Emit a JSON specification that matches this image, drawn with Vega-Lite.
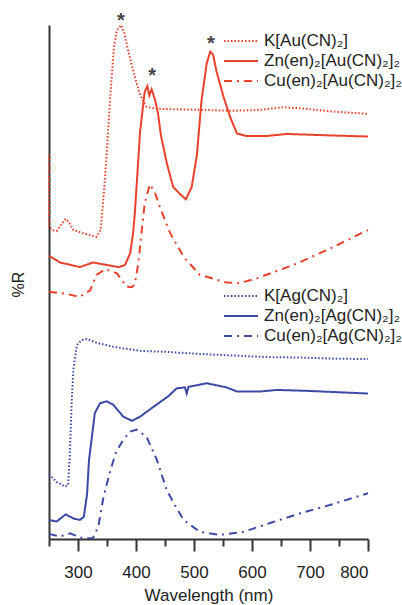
{
  "$schema": "https://vega.github.io/schema/vega-lite/v6.json",
  "width": 319,
  "height": 514,
  "autosize": {"type": "none"},
  "padding": {"left": 49, "top": 25, "right": 34, "bottom": 66},
  "background": "white",
  "config": {"view": {"stroke": null}, "font": "Liberation Sans", "axis": {"grid": false}},
  "datasets": {
    "au": [
      {"s": "K[Au(CN)₂]", "x": 250, "y": 74.7, "i": 0},
      {"s": "K[Au(CN)₂]", "x": 250, "y": 60.7, "i": 1},
      {"s": "K[Au(CN)₂]", "x": 257, "y": 60.1, "i": 2},
      {"s": "K[Au(CN)₂]", "x": 263, "y": 59.9, "i": 3},
      {"s": "K[Au(CN)₂]", "x": 270, "y": 61.0, "i": 4},
      {"s": "K[Au(CN)₂]", "x": 279, "y": 62.3, "i": 5},
      {"s": "K[Au(CN)₂]", "x": 285, "y": 61.5, "i": 6},
      {"s": "K[Au(CN)₂]", "x": 292, "y": 60.1, "i": 7},
      {"s": "K[Au(CN)₂]", "x": 309, "y": 59.5, "i": 8},
      {"s": "K[Au(CN)₂]", "x": 332, "y": 58.8, "i": 9},
      {"s": "K[Au(CN)₂]", "x": 339, "y": 60.1, "i": 10},
      {"s": "K[Au(CN)₂]", "x": 344, "y": 66.5, "i": 11},
      {"s": "K[Au(CN)₂]", "x": 350, "y": 75.7, "i": 12},
      {"s": "K[Au(CN)₂]", "x": 352, "y": 79.6, "i": 13},
      {"s": "K[Au(CN)₂]", "x": 356, "y": 86.8, "i": 14},
      {"s": "K[Au(CN)₂]", "x": 362, "y": 95.7, "i": 15},
      {"s": "K[Au(CN)₂]", "x": 367, "y": 99.0, "i": 16},
      {"s": "K[Au(CN)₂]", "x": 374, "y": 100.0, "i": 17},
      {"s": "K[Au(CN)₂]", "x": 380, "y": 98.4, "i": 18},
      {"s": "K[Au(CN)₂]", "x": 385, "y": 95.7, "i": 19},
      {"s": "K[Au(CN)₂]", "x": 395, "y": 91.2, "i": 20},
      {"s": "K[Au(CN)₂]", "x": 407, "y": 86.4, "i": 21},
      {"s": "K[Au(CN)₂]", "x": 418, "y": 84.1, "i": 22},
      {"s": "K[Au(CN)₂]", "x": 436, "y": 83.7, "i": 23},
      {"s": "K[Au(CN)₂]", "x": 510, "y": 83.5, "i": 24},
      {"s": "K[Au(CN)₂]", "x": 567, "y": 83.3, "i": 25},
      {"s": "K[Au(CN)₂]", "x": 614, "y": 83.5, "i": 26},
      {"s": "K[Au(CN)₂]", "x": 653, "y": 84.0, "i": 27},
      {"s": "K[Au(CN)₂]", "x": 683, "y": 83.8, "i": 28},
      {"s": "K[Au(CN)₂]", "x": 735, "y": 83.2, "i": 29},
      {"s": "K[Au(CN)₂]", "x": 800, "y": 82.7, "i": 30},
      {"s": "Zn(en)₂[Au(CN)₂]₂", "x": 250, "y": 55.1, "i": 0},
      {"s": "Zn(en)₂[Au(CN)₂]₂", "x": 269, "y": 53.8, "i": 1},
      {"s": "Zn(en)₂[Au(CN)₂]₂", "x": 303, "y": 52.9, "i": 2},
      {"s": "Zn(en)₂[Au(CN)₂]₂", "x": 326, "y": 53.8, "i": 3},
      {"s": "Zn(en)₂[Au(CN)₂]₂", "x": 350, "y": 53.3, "i": 4},
      {"s": "Zn(en)₂[Au(CN)₂]₂", "x": 370, "y": 52.9, "i": 5},
      {"s": "Zn(en)₂[Au(CN)₂]₂", "x": 381, "y": 53.3, "i": 6},
      {"s": "Zn(en)₂[Au(CN)₂]₂", "x": 390, "y": 55.6, "i": 7},
      {"s": "Zn(en)₂[Au(CN)₂]₂", "x": 395, "y": 59.5, "i": 8},
      {"s": "Zn(en)₂[Au(CN)₂]₂", "x": 398, "y": 63.4, "i": 9},
      {"s": "Zn(en)₂[Au(CN)₂]₂", "x": 407, "y": 79.2, "i": 10},
      {"s": "Zn(en)₂[Au(CN)₂]₂", "x": 415, "y": 87.0, "i": 11},
      {"s": "Zn(en)₂[Au(CN)₂]₂", "x": 419.5, "y": 88.1, "i": 12},
      {"s": "Zn(en)₂[Au(CN)₂]₂", "x": 423, "y": 86.3, "i": 13},
      {"s": "Zn(en)₂[Au(CN)₂]₂", "x": 427, "y": 87.5, "i": 14},
      {"s": "Zn(en)₂[Au(CN)₂]₂", "x": 433, "y": 85.4, "i": 15},
      {"s": "Zn(en)₂[Au(CN)₂]₂", "x": 438, "y": 82.8, "i": 16},
      {"s": "Zn(en)₂[Au(CN)₂]₂", "x": 443, "y": 78.5, "i": 17},
      {"s": "Zn(en)₂[Au(CN)₂]₂", "x": 453, "y": 73.2, "i": 18},
      {"s": "Zn(en)₂[Au(CN)₂]₂", "x": 464, "y": 68.5, "i": 19},
      {"s": "Zn(en)₂[Au(CN)₂]₂", "x": 476, "y": 67.1, "i": 20},
      {"s": "Zn(en)₂[Au(CN)₂]₂", "x": 486, "y": 66.1, "i": 21},
      {"s": "Zn(en)₂[Au(CN)₂]₂", "x": 496, "y": 68.5, "i": 22},
      {"s": "Zn(en)₂[Au(CN)₂]₂", "x": 505, "y": 74.7, "i": 23},
      {"s": "Zn(en)₂[Au(CN)₂]₂", "x": 513, "y": 85.4, "i": 24},
      {"s": "Zn(en)₂[Au(CN)₂]₂", "x": 522, "y": 92.6, "i": 25},
      {"s": "Zn(en)₂[Au(CN)₂]₂", "x": 528, "y": 94.8, "i": 26},
      {"s": "Zn(en)₂[Au(CN)₂]₂", "x": 533, "y": 94.2, "i": 27},
      {"s": "Zn(en)₂[Au(CN)₂]₂", "x": 539, "y": 90.9, "i": 28},
      {"s": "Zn(en)₂[Au(CN)₂]₂", "x": 551, "y": 86.0, "i": 29},
      {"s": "Zn(en)₂[Au(CN)₂]₂", "x": 562, "y": 82.2, "i": 30},
      {"s": "Zn(en)₂[Au(CN)₂]₂", "x": 574, "y": 78.9, "i": 31},
      {"s": "Zn(en)₂[Au(CN)₂]₂", "x": 591, "y": 78.4, "i": 32},
      {"s": "Zn(en)₂[Au(CN)₂]₂", "x": 625, "y": 78.4, "i": 33},
      {"s": "Zn(en)₂[Au(CN)₂]₂", "x": 660, "y": 78.8, "i": 34},
      {"s": "Zn(en)₂[Au(CN)₂]₂", "x": 740, "y": 78.5, "i": 35},
      {"s": "Zn(en)₂[Au(CN)₂]₂", "x": 800, "y": 78.3, "i": 36},
      {"s": "Cu(en)₂[Au(CN)₂]₂", "x": 250, "y": 48.1, "i": 0},
      {"s": "Cu(en)₂[Au(CN)₂]₂", "x": 280, "y": 47.7, "i": 1},
      {"s": "Cu(en)₂[Au(CN)₂]₂", "x": 303, "y": 47.1, "i": 2},
      {"s": "Cu(en)₂[Au(CN)₂]₂", "x": 321, "y": 48.4, "i": 3},
      {"s": "Cu(en)₂[Au(CN)₂]₂", "x": 332, "y": 51.4, "i": 4},
      {"s": "Cu(en)₂[Au(CN)₂]₂", "x": 347, "y": 52.5, "i": 5},
      {"s": "Cu(en)₂[Au(CN)₂]₂", "x": 367, "y": 51.7, "i": 6},
      {"s": "Cu(en)₂[Au(CN)₂]₂", "x": 384, "y": 49.1, "i": 7},
      {"s": "Cu(en)₂[Au(CN)₂]₂", "x": 393, "y": 49.0, "i": 8},
      {"s": "Cu(en)₂[Au(CN)₂]₂", "x": 398, "y": 49.6, "i": 9},
      {"s": "Cu(en)₂[Au(CN)₂]₂", "x": 404, "y": 53.6, "i": 10},
      {"s": "Cu(en)₂[Au(CN)₂]₂", "x": 410, "y": 60.1, "i": 11},
      {"s": "Cu(en)₂[Au(CN)₂]₂", "x": 415, "y": 65.3, "i": 12},
      {"s": "Cu(en)₂[Au(CN)₂]₂", "x": 424, "y": 69.0, "i": 13},
      {"s": "Cu(en)₂[Au(CN)₂]₂", "x": 433, "y": 67.3, "i": 14},
      {"s": "Cu(en)₂[Au(CN)₂]₂", "x": 441, "y": 64.6, "i": 15},
      {"s": "Cu(en)₂[Au(CN)₂]₂", "x": 459, "y": 59.5, "i": 16},
      {"s": "Cu(en)₂[Au(CN)₂]₂", "x": 482, "y": 54.9, "i": 17},
      {"s": "Cu(en)₂[Au(CN)₂]₂", "x": 510, "y": 51.4, "i": 18},
      {"s": "Cu(en)₂[Au(CN)₂]₂", "x": 556, "y": 49.9, "i": 19},
      {"s": "Cu(en)₂[Au(CN)₂]₂", "x": 579, "y": 49.8, "i": 20},
      {"s": "Cu(en)₂[Au(CN)₂]₂", "x": 608, "y": 50.7, "i": 21},
      {"s": "Cu(en)₂[Au(CN)₂]₂", "x": 671, "y": 53.3, "i": 22},
      {"s": "Cu(en)₂[Au(CN)₂]₂", "x": 729, "y": 56.2, "i": 23},
      {"s": "Cu(en)₂[Au(CN)₂]₂", "x": 800, "y": 60.1, "i": 24}
    ],
    "ag": [
      {"s": "K[Ag(CN)₂]", "x": 250, "y": 12.6, "i": 0},
      {"s": "K[Ag(CN)₂]", "x": 263, "y": 11.1, "i": 1},
      {"s": "K[Ag(CN)₂]", "x": 278, "y": 10.2, "i": 2},
      {"s": "K[Ag(CN)₂]", "x": 283, "y": 10.5, "i": 3},
      {"s": "K[Ag(CN)₂]", "x": 286, "y": 16.7, "i": 4},
      {"s": "K[Ag(CN)₂]", "x": 289, "y": 26.4, "i": 5},
      {"s": "K[Ag(CN)₂]", "x": 292, "y": 32.9, "i": 6},
      {"s": "K[Ag(CN)₂]", "x": 298, "y": 37.7, "i": 7},
      {"s": "K[Ag(CN)₂]", "x": 306, "y": 38.7, "i": 8},
      {"s": "K[Ag(CN)₂]", "x": 315, "y": 38.9, "i": 9},
      {"s": "K[Ag(CN)₂]", "x": 332, "y": 38.2, "i": 10},
      {"s": "K[Ag(CN)₂]", "x": 361, "y": 37.4, "i": 11},
      {"s": "K[Ag(CN)₂]", "x": 407, "y": 36.6, "i": 12},
      {"s": "K[Ag(CN)₂]", "x": 453, "y": 36.4, "i": 13},
      {"s": "K[Ag(CN)₂]", "x": 510, "y": 36.0, "i": 14},
      {"s": "K[Ag(CN)₂]", "x": 568, "y": 35.7, "i": 15},
      {"s": "K[Ag(CN)₂]", "x": 625, "y": 35.4, "i": 16},
      {"s": "K[Ag(CN)₂]", "x": 683, "y": 35.3, "i": 17},
      {"s": "K[Ag(CN)₂]", "x": 740, "y": 35.1, "i": 18},
      {"s": "K[Ag(CN)₂]", "x": 800, "y": 35.0, "i": 19},
      {"s": "Zn(en)₂[Ag(CN)₂]₂", "x": 250, "y": 3.7, "i": 0},
      {"s": "Zn(en)₂[Ag(CN)₂]₂", "x": 263, "y": 3.4, "i": 1},
      {"s": "Zn(en)₂[Ag(CN)₂]₂", "x": 279, "y": 4.8, "i": 2},
      {"s": "Zn(en)₂[Ag(CN)₂]₂", "x": 292, "y": 4.0, "i": 3},
      {"s": "Zn(en)₂[Ag(CN)₂]₂", "x": 303, "y": 3.7, "i": 4},
      {"s": "Zn(en)₂[Ag(CN)₂]₂", "x": 310, "y": 4.3, "i": 5},
      {"s": "Zn(en)₂[Ag(CN)₂]₂", "x": 315.5, "y": 8.6, "i": 6},
      {"s": "Zn(en)₂[Ag(CN)₂]₂", "x": 319, "y": 15.4, "i": 7},
      {"s": "Zn(en)₂[Ag(CN)₂]₂", "x": 324, "y": 19.9, "i": 8},
      {"s": "Zn(en)₂[Ag(CN)₂]₂", "x": 329, "y": 24.5, "i": 9},
      {"s": "Zn(en)₂[Ag(CN)₂]₂", "x": 338, "y": 26.4, "i": 10},
      {"s": "Zn(en)₂[Ag(CN)₂]₂", "x": 349.5, "y": 26.8, "i": 11},
      {"s": "Zn(en)₂[Ag(CN)₂]₂", "x": 361, "y": 26.1, "i": 12},
      {"s": "Zn(en)₂[Ag(CN)₂]₂", "x": 378, "y": 23.8, "i": 13},
      {"s": "Zn(en)₂[Ag(CN)₂]₂", "x": 393, "y": 23.0, "i": 14},
      {"s": "Zn(en)₂[Ag(CN)₂]₂", "x": 407, "y": 23.8, "i": 15},
      {"s": "Zn(en)₂[Ag(CN)₂]₂", "x": 430, "y": 25.7, "i": 16},
      {"s": "Zn(en)₂[Ag(CN)₂]₂", "x": 456, "y": 27.8, "i": 17},
      {"s": "Zn(en)₂[Ag(CN)₂]₂", "x": 470, "y": 29.3, "i": 18},
      {"s": "Zn(en)₂[Ag(CN)₂]₂", "x": 484.5, "y": 29.5, "i": 19},
      {"s": "Zn(en)₂[Ag(CN)₂]₂", "x": 487.4, "y": 28.3, "i": 20},
      {"s": "Zn(en)₂[Ag(CN)₂]₂", "x": 490.5, "y": 29.6, "i": 21},
      {"s": "Zn(en)₂[Ag(CN)₂]₂", "x": 522, "y": 30.3, "i": 22},
      {"s": "Zn(en)₂[Ag(CN)₂]₂", "x": 556, "y": 29.5, "i": 23},
      {"s": "Zn(en)₂[Ag(CN)₂]₂", "x": 574, "y": 28.7, "i": 24},
      {"s": "Zn(en)₂[Ag(CN)₂]₂", "x": 614, "y": 28.7, "i": 25},
      {"s": "Zn(en)₂[Ag(CN)₂]₂", "x": 643, "y": 29.0, "i": 26},
      {"s": "Zn(en)₂[Ag(CN)₂]₂", "x": 700, "y": 28.8, "i": 27},
      {"s": "Zn(en)₂[Ag(CN)₂]₂", "x": 800, "y": 28.3, "i": 28},
      {"s": "Cu(en)₂[Ag(CN)₂]₂", "x": 250, "y": 1.0, "i": 0},
      {"s": "Cu(en)₂[Ag(CN)₂]₂", "x": 269, "y": 0.5, "i": 1},
      {"s": "Cu(en)₂[Ag(CN)₂]₂", "x": 286, "y": 1.1, "i": 2},
      {"s": "Cu(en)₂[Ag(CN)₂]₂", "x": 309, "y": 0.1, "i": 3},
      {"s": "Cu(en)₂[Ag(CN)₂]₂", "x": 326, "y": 0.2, "i": 4},
      {"s": "Cu(en)₂[Ag(CN)₂]₂", "x": 335, "y": 2.4, "i": 5},
      {"s": "Cu(en)₂[Ag(CN)₂]₂", "x": 344, "y": 8.2, "i": 6},
      {"s": "Cu(en)₂[Ag(CN)₂]₂", "x": 355, "y": 13.0, "i": 7},
      {"s": "Cu(en)₂[Ag(CN)₂]₂", "x": 365.5, "y": 16.9, "i": 8},
      {"s": "Cu(en)₂[Ag(CN)₂]₂", "x": 378, "y": 19.3, "i": 9},
      {"s": "Cu(en)₂[Ag(CN)₂]₂", "x": 390, "y": 20.9, "i": 10},
      {"s": "Cu(en)₂[Ag(CN)₂]₂", "x": 401, "y": 21.3, "i": 11},
      {"s": "Cu(en)₂[Ag(CN)₂]₂", "x": 418, "y": 19.9, "i": 12},
      {"s": "Cu(en)₂[Ag(CN)₂]₂", "x": 436, "y": 15.4, "i": 13},
      {"s": "Cu(en)₂[Ag(CN)₂]₂", "x": 453, "y": 9.5, "i": 14},
      {"s": "Cu(en)₂[Ag(CN)₂]₂", "x": 467, "y": 6.6, "i": 15},
      {"s": "Cu(en)₂[Ag(CN)₂]₂", "x": 482, "y": 3.7, "i": 16},
      {"s": "Cu(en)₂[Ag(CN)₂]₂", "x": 510, "y": 1.4, "i": 17},
      {"s": "Cu(en)₂[Ag(CN)₂]₂", "x": 545, "y": 0.8, "i": 18},
      {"s": "Cu(en)₂[Ag(CN)₂]₂", "x": 585, "y": 1.4, "i": 19},
      {"s": "Cu(en)₂[Ag(CN)₂]₂", "x": 631, "y": 3.1, "i": 20},
      {"s": "Cu(en)₂[Ag(CN)₂]₂", "x": 683, "y": 5.0, "i": 21},
      {"s": "Cu(en)₂[Ag(CN)₂]₂", "x": 734, "y": 6.6, "i": 22},
      {"s": "Cu(en)₂[Ag(CN)₂]₂", "x": 800, "y": 8.9, "i": 23}
    ],
    "stars": [
      {"x": 374, "y": 101.6, "t": "*"},
      {"x": 428, "y": 90.8, "t": "*"},
      {"x": 529, "y": 97.1, "t": "*"}
    ]
  },
  "encoding": {
    "y": {
      "field": "y", "type": "quantitative",
      "scale": {"domain": [0, 100], "nice": false},
      "axis": {
        "ticks": false, "labels": false, "domainColor": "#333", "domainWidth": 2,
        "title": "%R", "titleFontSize": 16, "titleFontWeight": "normal",
        "titleColor": "#222", "titlePadding": 23, "titleY": 259
      }
    }
  },
  "layer": [
    {
      "data": {"name": "au"},
      "mark": {"type": "line", "strokeWidth": 2},
      "encoding": {
        "x": {
          "field": "x", "type": "quantitative",
          "scale": {"domain": [250, 800], "nice": false, "zero": false},
          "axis": {
            "orient": "bottom", "values": [300, 400, 500, 600, 700, 800],
            "tickSize": 12, "tickWidth": 2, "tickColor": "#333",
            "domainColor": "#333", "domainWidth": 2,
            "labelFontSize": 17, "labelColor": "#222", "labelPadding": 13,
            "title": "Wavelength (nm)", "titleFontSize": 17, "titleFontWeight": "normal",
            "titleColor": "#222", "titlePadding": 7
          }
        },
        "order": {"field": "i", "type": "quantitative"},
        "color": {
          "field": "s", "type": "nominal",
          "scale": {"domain": ["K[Au(CN)₂]", "Zn(en)₂[Au(CN)₂]₂", "Cu(en)₂[Au(CN)₂]₂"], "range": ["#e8412c", "#e8412c", "#e8412c"]},
          "legend": {"orient": "none", "legendX": 174, "legendY": 6, "title": null, "symbolType": "stroke", "symbolSize": 1156, "symbolStrokeWidth": 2, "labelFontSize": 17, "labelColor": "#222", "labelLimit": 400, "rowPadding": 0, "clipHeight": 20, "labelOffset": 5, "padding": 0}
        },
        "strokeDash": {
          "field": "s", "type": "nominal",
          "scale": {"domain": ["K[Au(CN)₂]", "Zn(en)₂[Au(CN)₂]₂", "Cu(en)₂[Au(CN)₂]₂"], "range": [[1.5, 2], [1, 0], [8, 5, 2, 5]]},
          "legend": {"orient": "none", "legendX": 174, "legendY": 6, "title": null, "symbolType": "stroke", "symbolSize": 1156, "symbolStrokeWidth": 2, "labelFontSize": 17, "labelColor": "#222", "labelLimit": 400, "rowPadding": 0, "clipHeight": 20, "labelOffset": 5, "padding": 0}
        }
      }
    },
    {
      "data": {"name": "ag"},
      "mark": {"type": "line", "strokeWidth": 2},
      "encoding": {
        "x": {"field": "x", "type": "quantitative", "axis": null},
        "order": {"field": "i", "type": "quantitative"},
        "color": {
          "field": "s", "type": "nominal",
          "scale": {"domain": ["K[Ag(CN)₂]", "Zn(en)₂[Ag(CN)₂]₂", "Cu(en)₂[Ag(CN)₂]₂"], "range": ["#3c4aa5", "#3c4aa5", "#3c4aa5"]},
          "legend": {"orient": "none", "legendX": 174, "legendY": 261, "title": null, "symbolType": "stroke", "symbolSize": 1156, "symbolStrokeWidth": 2, "labelFontSize": 17, "labelColor": "#222", "labelLimit": 400, "rowPadding": 0, "clipHeight": 20, "labelOffset": 5, "padding": 0}
        },
        "strokeDash": {
          "field": "s", "type": "nominal",
          "scale": {"domain": ["K[Ag(CN)₂]", "Zn(en)₂[Ag(CN)₂]₂", "Cu(en)₂[Ag(CN)₂]₂"], "range": [[1.5, 2], [1, 0], [8, 5, 2, 5]]},
          "legend": {"orient": "none", "legendX": 174, "legendY": 261, "title": null, "symbolType": "stroke", "symbolSize": 1156, "symbolStrokeWidth": 2, "labelFontSize": 17, "labelColor": "#222", "labelLimit": 400, "rowPadding": 0, "clipHeight": 20, "labelOffset": 5, "padding": 0}
        }
      }
    },
    {
      "data": {"name": "stars"},
      "mark": {"type": "text", "fontSize": 20, "fontWeight": "bold", "color": "#444", "baseline": "middle", "dy": 4},
      "encoding": {
        "x": {
          "field": "x", "type": "quantitative",
          "axis": {"orient": "bottom", "values": [250, 350, 450, 550, 650, 750], "tickSize": 7, "tickWidth": 2, "tickColor": "#333", "labels": false, "domain": false, "title": null}
        },
        "text": {"field": "t"}
      }
    }
  ],
  "resolve": {"scale": {"color": "independent", "strokeDash": "independent"}, "axis": {"x": "independent"}}
}
